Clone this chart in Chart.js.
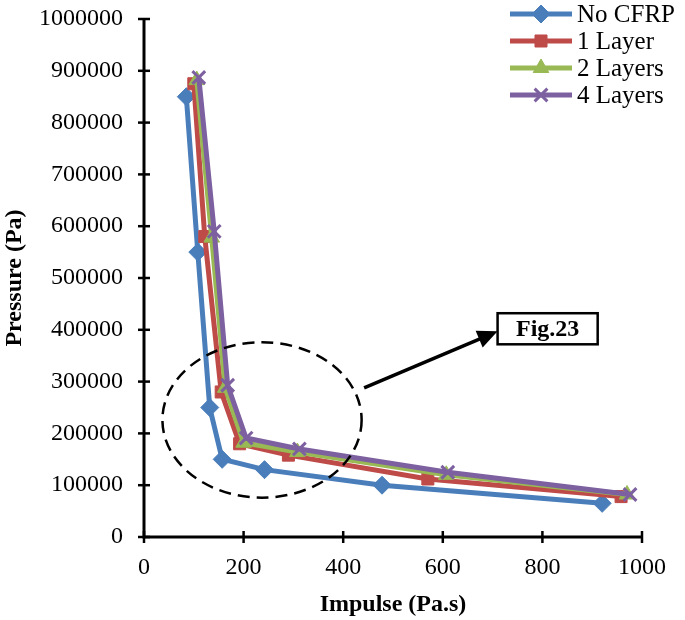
<!DOCTYPE html>
<html>
<head>
<meta charset="utf-8">
<script src="https://cdn.jsdelivr.net/npm/chart.js@4.4.0/dist/chart.umd.min.js"></script>
<style>
  html, body { margin: 0; padding: 0; background: #fff; }
</style>
</head>
<body>
<canvas id="grafico" width="685" height="620"></canvas>
<script>
// valores
var seriesNames = ["No CFRP", "1 Layer", "2 Layers", "4 Layers"];
var impulseNoCfrp = [85, 108, 132, 157, 242, 478, 920];
var pressureNoCfrp = [850000, 550000, 250000, 150000, 130000, 100000, 65000];
var impulse1Layer = [100, 122, 155, 192, 290, 570, 958];
var pressure1Layer = [875000, 580000, 280000, 180000, 158000, 112000, 78000];
var impulse2Layers = [106, 136, 163, 200, 308, 607, 970];
var pressure2Layers = [882000, 578000, 288000, 182000, 164000, 120000, 82000];
var impulse4Layers = [110, 141, 168, 205, 312, 610, 976];
var pressure4Layers = [887000, 590000, 293000, 191000, 170000, 125000, 82000];
var xTicks = [0, 200, 400, 600, 800, 1000];
var yTicks = [0, 100000, 200000, 300000, 400000, 500000, 600000, 700000, 800000, 900000, 1000000];

var serif = "'Liberation Serif', 'Times New Roman', serif";

pontos = (xs, ys) => xs.map((x, i) => ({ x: x, y: ys[i] }));

var cores = ["#4A7EBB", "#BE4B48", "#98B954", "#7D60A0"];
var estilos = ["rectRot", "rect", "triangle", "crossRot"];
var raios = [9, 8.5, 9, 9];
var dados = [
  pontos(impulseNoCfrp, pressureNoCfrp),
  pontos(impulse1Layer, pressure1Layer),
  pontos(impulse2Layers, pressure2Layers),
  pontos(impulse4Layers, pressure4Layers)
];

var datasets = dados.map((d, i) => ({
  label: seriesNames[i],
  data: d,
  borderColor: cores[i],
  backgroundColor: cores[i],
  borderWidth: 5,
  pointStyle: estilos[i],
  pointRadius: raios[i],
  pointBorderWidth: i === 3 ? 3 : 1,
  pointBackgroundColor: cores[i],
  pointBorderColor: cores[i],
  tension: 0,
  order: 4 - i
}));

// eixos com tracinhos cruzados, legenda e anotacoes
var extras = {
  id: 'extras',
  afterDraw(chart) {
    var ctx = chart.ctx;
    var xs = chart.scales.x, ys = chart.scales.y;
    var a = chart.chartArea;
    ctx.save();
    ctx.strokeStyle = '#000';
    ctx.lineWidth = 3;
    ctx.beginPath();
    ctx.moveTo(a.left, a.top);
    ctx.lineTo(a.left, a.bottom);
    ctx.lineTo(a.right, a.bottom);
    ctx.stroke();
    ctx.lineWidth = 2.5;
    yTicks.forEach(v => {
      var p = ys.getPixelForValue(v);
      ctx.beginPath();
      ctx.moveTo(a.left - 6, p);
      ctx.lineTo(a.left + 6, p);
      ctx.stroke();
    });
    xTicks.forEach(v => {
      var p = xs.getPixelForValue(v);
      ctx.beginPath();
      ctx.moveTo(p, a.bottom - 6);
      ctx.lineTo(p, a.bottom + 6);
      ctx.stroke();
    });

    // elipse tracejada
    var cx = xs.getPixelForValue(237), cy = ys.getPixelForValue(226000);
    var rx = xs.getPixelForValue(437) - cx, ry = cy - ys.getPixelForValue(376000);
    ctx.setLineDash([12, 7]);
    ctx.lineWidth = 2.5;
    ctx.beginPath();
    ctx.ellipse(cx, cy, rx, ry, 0, 0, Math.PI * 2);
    ctx.stroke();
    ctx.setLineDash([]);

    // seta
    var x0 = xs.getPixelForValue(442), y0 = ys.getPixelForValue(288000);
    var x1 = xs.getPixelForValue(710), y1 = ys.getPixelForValue(397000);
    var ang = Math.atan2(y1 - y0, x1 - x0);
    ctx.lineWidth = 3.5;
    ctx.beginPath();
    ctx.moveTo(x0, y0);
    ctx.lineTo(x1 - 14 * Math.cos(ang), y1 - 14 * Math.sin(ang));
    ctx.stroke();
    ctx.fillStyle = '#000';
    ctx.beginPath();
    ctx.moveTo(x1, y1);
    ctx.lineTo(x1 - 20 * Math.cos(ang) + 9 * Math.sin(ang), y1 - 20 * Math.sin(ang) - 9 * Math.cos(ang));
    ctx.lineTo(x1 - 20 * Math.cos(ang) - 9 * Math.sin(ang), y1 - 20 * Math.sin(ang) + 9 * Math.cos(ang));
    ctx.closePath();
    ctx.fill();

    // caixa Fig.23
    var bx = xs.getPixelForValue(710), by = ys.getPixelForValue(432000);
    var bw = xs.getPixelForValue(911) - bx, bh = ys.getPixelForValue(372000) - by;
    ctx.lineWidth = 2.5;
    ctx.fillStyle = '#fff';
    ctx.fillRect(bx, by, bw, bh);
    ctx.strokeRect(bx, by, bw, bh);
    ctx.fillStyle = '#000';
    ctx.font = "bold 24px " + serif;
    ctx.textAlign = 'center';
    ctx.textBaseline = 'middle';
    ctx.fillText("Fig.23", bx + bw / 2, by + bh / 2 + 1);

    // legenda
    var lx = 510, ly = 14, passo = 27;
    datasets.forEach((ds, i) => {
      var y = ly + i * passo;
      ctx.strokeStyle = ds.borderColor;
      ctx.lineWidth = 5;
      ctx.beginPath();
      ctx.moveTo(lx, y);
      ctx.lineTo(lx + 62, y);
      ctx.stroke();
      ctx.fillStyle = ds.backgroundColor;
      ctx.lineWidth = ds.pointBorderWidth;
      Chart.helpers.drawPoint(ctx, {
        pointStyle: ds.pointStyle,
        radius: ds.pointRadius,
        borderWidth: ds.pointBorderWidth
      }, lx + 31, y);
      ctx.fillStyle = '#000';
      ctx.font = "25px " + serif;
      ctx.textAlign = 'left';
      ctx.textBaseline = 'middle';
      ctx.fillText(ds.label, lx + 67, y + 1);
    });
    ctx.restore();
  }
};

var grafico = new Chart(document.getElementById('grafico'), {
  type: 'line',
  data: { datasets: datasets },
  plugins: [extras],
  options: {
    responsive: false,
    animation: false,
    devicePixelRatio: 1,
    layout: { padding: { left: 0, right: 43, top: 19, bottom: 0 } },
    plugins: { legend: { display: false }, tooltip: { enabled: false } },
    scales: {
      x: {
        type: 'linear',
        min: 0, max: 1000,
        afterBuildTicks: (s) => { s.ticks = xTicks.map(v => ({ value: v })); },
        afterFit: (s) => { s.height = 83; s.paddingLeft = 0; s.paddingRight = 0; },
        grid: { display: false, drawTicks: false },
        border: { display: false },
        ticks: { color: '#000', padding: 16, font: { family: serif, size: 24 }, callback: (v) => String(v) },
        title: {
          display: true, text: 'Impulse (Pa.s)', color: '#000',
          font: { family: serif, size: 24, weight: 'bold' },
          padding: { top: 0, bottom: 1 }
        }
      },
      y: {
        type: 'linear',
        min: 0, max: 1000000,
        afterBuildTicks: (s) => { s.ticks = yTicks.map(v => ({ value: v })); },
        afterFit: (s) => { s.width = 144; s.paddingTop = 0; s.paddingBottom = 0; },
        grid: { display: false, drawTicks: false },
        border: { display: false },
        ticks: { color: '#000', padding: 21, font: { family: serif, size: 24 }, callback: (v) => String(v) },
        title: {
          display: true, text: 'Pressure (Pa)', color: '#000',
          font: { family: serif, size: 24, weight: 'bold' },
          padding: { top: 0, bottom: 0 }
        }
      }
    }
  }
});
</script>
</body>
</html>
